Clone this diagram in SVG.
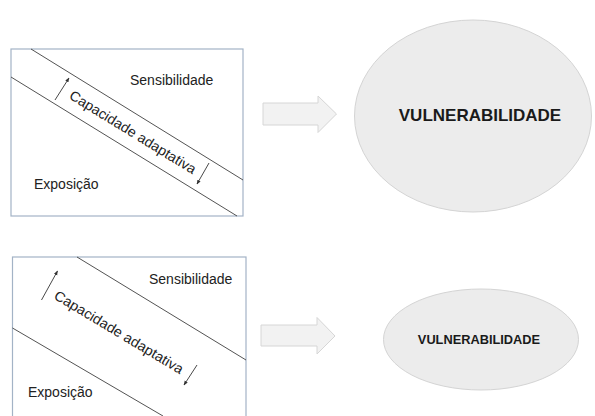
<svg xmlns="http://www.w3.org/2000/svg" width="595" height="416" viewBox="0 0 595 416">
<defs>
<marker id="ah" viewBox="0 0 10 10" refX="9" refY="5" markerWidth="5" markerHeight="5" orient="auto">
<path d="M0,1 L10,5 L0,9 z" fill="#333"/>
</marker>
<style>
.box{fill:#fff;stroke:#a3b3c6;stroke-width:1.2}
.ln{stroke:#404040;stroke-width:0.9;fill:none}
.ar{stroke:#333;stroke-width:0.9;fill:none;marker-end:url(#ah)}
.t{font-family:"Liberation Sans",Arial,sans-serif;font-size:14px;fill:#222}
.blk{fill:#f2f2f2;stroke:#d6d6d6;stroke-width:1}
.ell{fill:#ececec;stroke:#d4d4d4;stroke-width:1}
.v{font-family:"Liberation Sans",Arial,sans-serif;font-weight:bold;fill:#1a1a1a;text-anchor:middle}
</style>
</defs>
<rect width="595" height="416" fill="#fff"/>
<g id="box-top">
<rect class="box" x="11" y="49" width="232" height="167"/>
<line class="ln" x1="31" y1="49" x2="243" y2="180"/>
<line class="ln" x1="11" y1="77" x2="237" y2="216"/>
<text class="t" x="130" y="85">Sensibilidade</text>
<text class="t" x="34" y="189">Exposição</text>
<text class="t" transform="translate(133,132) rotate(31.6)" x="0" y="5" text-anchor="middle" font-size="15" textLength="146" lengthAdjust="spacingAndGlyphs">Capacidade adaptativa</text>
</g>
<g id="box-bottom">
<rect class="box" x="12.5" y="257" width="233.5" height="170"/>
<line class="ln" x1="77" y1="257" x2="246" y2="360"/>
<line class="ln" x1="12.5" y1="328" x2="163" y2="416"/>
<text class="t" x="149" y="284">Sensibilidade</text>
<text class="t" x="28" y="397">Exposição</text>
<text class="t" transform="translate(119,332) rotate(31)" x="0" y="5" text-anchor="middle" font-size="15" textLength="148" lengthAdjust="spacingAndGlyphs">Capacidade adaptativa</text>
</g>
<g id="arrow-top">
<path class="blk" d="M263,103 H318 V96 L336.5,114 L318,132.5 V125 H263 Z"/>
</g>
<g id="arrow-bottom">
<path class="blk" d="M261,325 H317 V317.5 L335,336 L317,354 V346 H261 Z"/>
</g>
<g id="vuln-top">
<ellipse class="ell" cx="473" cy="116" rx="118.5" ry="96"/>
<text class="v" x="480" y="121" font-size="17">VULNERABILIDADE</text>
</g>
<g id="vuln-bottom">
<ellipse class="ell" cx="481" cy="339.5" rx="97.5" ry="50.5"/>
<text class="v" x="479" y="344" font-size="12.8">VULNERABILIDADE</text>
</g>
<g id="connectors">
<line class="ar" x1="55" y1="100" x2="69" y2="78"/>
<line class="ar" x1="209" y1="163" x2="197" y2="184"/>
<line class="ar" x1="41.5" y1="300" x2="57.5" y2="271"/>
<line class="ar" x1="197" y1="365" x2="184" y2="385"/>
</g>
</svg>
